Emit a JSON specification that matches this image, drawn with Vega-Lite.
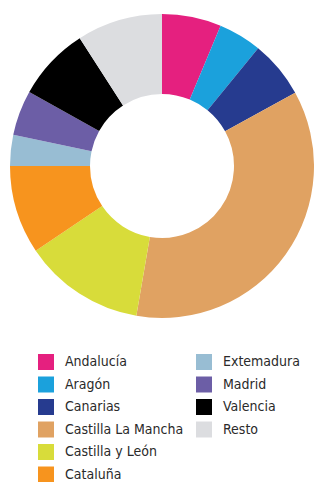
{
  "$schema": "https://vega.github.io/schema/vega-lite/v6.json",
  "width": 304,
  "height": 332,
  "padding": {"left": 10, "top": 0, "right": 0, "bottom": 0},
  "background": "#ffffff",
  "view": {"stroke": null},
  "data": {
    "values": [
      {"region": "Andalucía", "pct": 6.3, "orden": 1},
      {"region": "Aragón", "pct": 4.6, "orden": 2},
      {"region": "Canarias", "pct": 6.1, "orden": 3},
      {"region": "Castilla La Mancha", "pct": 35.7, "orden": 4},
      {"region": "Castilla y León", "pct": 12.9, "orden": 5},
      {"region": "Cataluña", "pct": 9.4, "orden": 6},
      {"region": "Extemadura", "pct": 3.3, "orden": 7},
      {"region": "Madrid", "pct": 4.8, "orden": 8},
      {"region": "Valencia", "pct": 7.8, "orden": 9},
      {"region": "Resto", "pct": 9.1, "orden": 10}
    ]
  },
  "mark": {"type": "arc", "outerRadius": 152, "innerRadius": 72, "stroke": null},
  "encoding": {
    "theta": {"field": "pct", "type": "quantitative", "stack": true},
    "order": {"field": "orden", "type": "quantitative"},
    "color": {
      "field": "region",
      "type": "nominal",
      "scale": {
        "domain": ["Andalucía", "Aragón", "Canarias", "Castilla La Mancha", "Castilla y León", "Cataluña", "Extemadura", "Madrid", "Valencia", "Resto", " ", "  "],
        "range": ["#e5207f", "#1ba1dc", "#263b8f", "#e0a262", "#d8dc3a", "#f7941e", "#98bdd3", "#6c5ea6", "#000000", "#dcdde0", "#ffffff", "#ffffff"]
      },
      "legend": {
        "title": null,
        "orient": "none",
        "legendX": 28,
        "legendY": 354,
        "columns": 2,
        "columnPadding": 12,
        "rowPadding": 6.5,
        "symbolType": "square",
        "symbolSize": 256,
        "symbolStrokeWidth": 0,
        "symbolOffset": 0,
        "labelOffset": 11,
        "labelFont": "DejaVu Sans Condensed",
        "labelFontSize": 14,
        "labelColor": "#2a2a2a",
        "labelLimit": 200,
        "padding": 0
      }
    }
  }
}
